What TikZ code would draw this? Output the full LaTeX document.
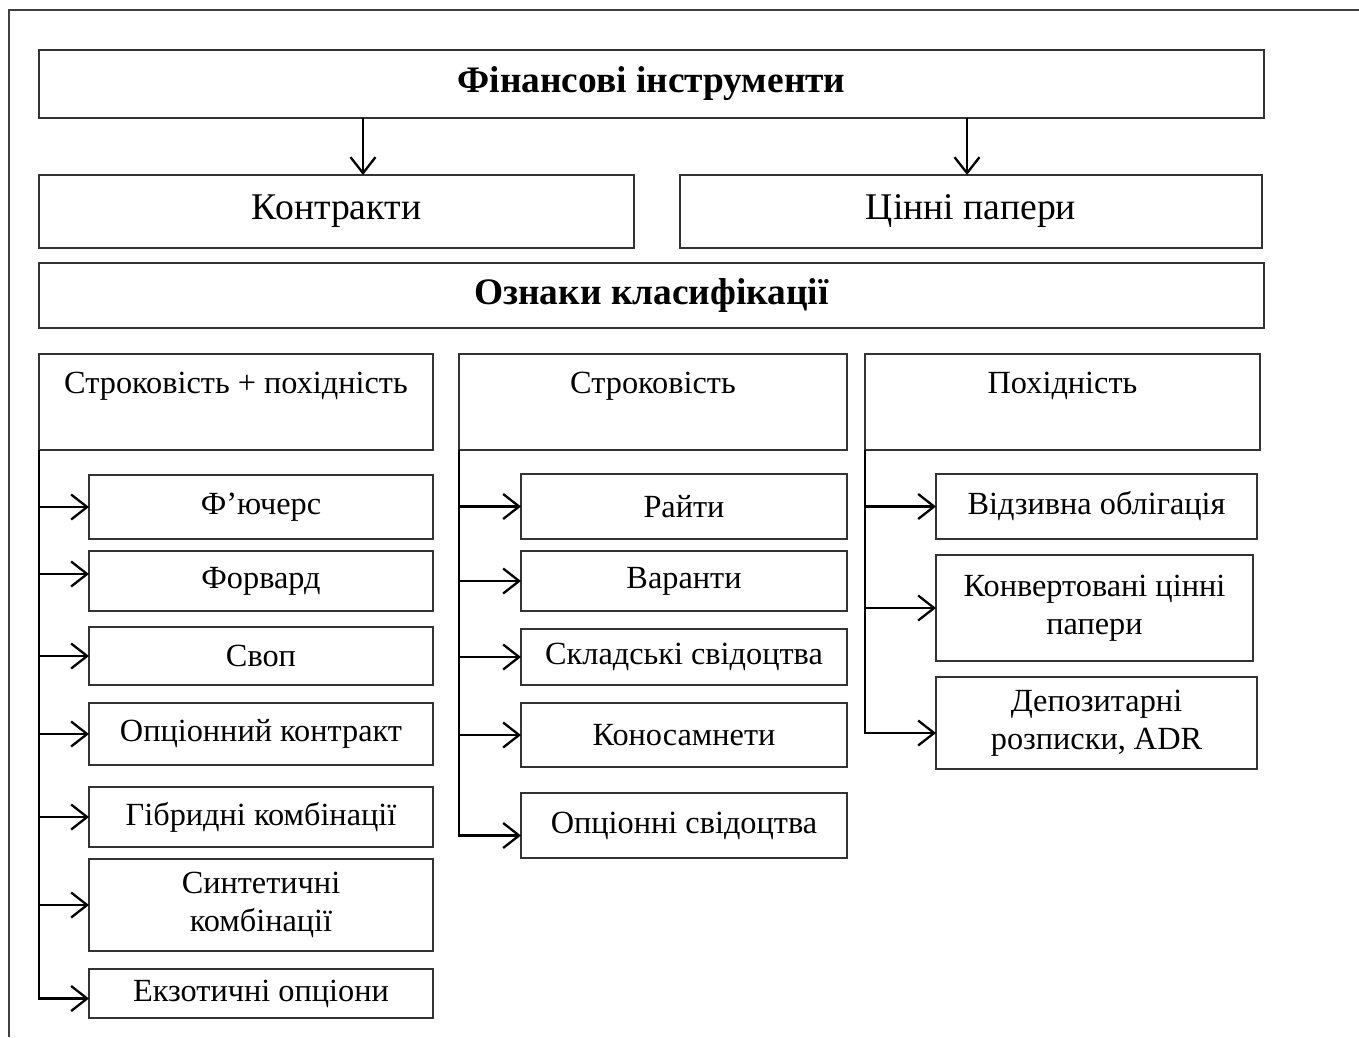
\documentclass[tikz,border=0pt]{standalone}
\usepackage{fontspec}
\setmainfont{Liberation Serif}
\usetikzlibrary{arrows.meta}
\newcommand\mybox[7][]{\node[box,#1,minimum width=#5pt,minimum height=#6pt,anchor=north west] (#2) at (#3,#4) {#7};}
\begin{document}
\begin{tikzpicture}[x=1pt,y=-1pt,
  box/.style={draw=black!80,line width=1.6pt,inner sep=0pt,outer sep=0pt,align=center,font=\fontsize{32.3}{38}\selectfont},
  big/.style={font=\fontsize{37.7}{44}\selectfont},
  ttl/.style={font=\fontsize{37.4}{44}\selectfont\bfseries},
  arr/.style={line width=2.3pt,-{Straight Barb[length=16pt,width=25pt,line width=2.3pt]}},
  frame/.style={draw=black!75,line width=1.6pt}]
\useasboundingbox (0,0) rectangle (1359,1037);
\draw[frame] (9,1037) -- (9,10) -- (1359,10);
% top level
\mybox[ttl]{title}{39}{50}{1225}{68}{Фінансові інструменти}
\mybox[big]{kon}{39}{175}{595}{73}{Контракти}
\mybox[big]{cin}{680}{175}{582}{73}{Цінні папери}
\mybox[ttl]{ozn}{39}{263}{1225}{65}{Ознаки класифікації}
\coordinate (ka) at ([xshift=26.5pt]kon.north);
\coordinate (ca) at ([xshift=-4pt]cin.north);
\draw[arr] (title.south -| ka) -- (ka);
\draw[arr] (title.south -| ca) -- (ca);
% headers
\mybox{h1}{39}{354}{394}{96}{Строковість + похідність\\\mbox{}}
\mybox{h2}{459}{354}{388}{96}{Строковість\\\mbox{}}
\mybox{h3}{865}{354}{395}{96}{Похідність\\\mbox{}}
% left column
\mybox{a1}{89}{475}{344}{64}{Ф’ючерс}
\mybox{a2}{89}{551}{344}{60}{Форвард}
\mybox{a3}{89}{627}{344}{58}{Своп}
\mybox{a4}{89}{703}{344}{62}{Опціонний контракт}
\mybox{a5}{89}{787}{344}{60}{Гібридні комбінації}
\mybox{a6}{89}{859}{344}{92}{Синтетичні\\комбінації}
\mybox{a7}{89}{969}{344}{49}{Екзотичні опціони}
% middle column
\mybox{b1}{521}{474}{326}{65}{Райти}
\mybox{b2}{521}{551}{326}{60}{Варанти}
\mybox{b3}{521}{629}{326}{56}{Складські свідоцтва}
\mybox{b4}{521}{703}{326}{64}{Коносамнети}
\mybox{b5}{521}{793}{326}{65}{Опціонні свідоцтва}
% right column
\mybox{c1}{936}{474}{321}{65}{Відзивна облігація}
\mybox{c2}{936}{555}{317}{106}{Конвертовані цінні\\папери}
\mybox{c3}{936}{677}{321}{92}{Депозитарні\\розписки, ADR}
% connectors left
\coordinate (a7e) at ([yshift=-5pt]a7.west);
\draw[arr] (h1.south west) |- (a7e);
\coordinate (a2e) at ([yshift=7pt]a2.west);
\foreach \n in {a1,a2e,a3,a4,a5,a6}{
  \draw[arr] (h1.south west |- \n) -- (\n -| a1.west);
}
% connectors middle
\coordinate (b5e) at ([yshift=-10pt]b5.west);
\draw[arr] (h2.south west) |- (b5e);
\foreach \n in {b1,b2,b3,b4}{
  \draw[arr] (h2.south west |- \n.west) -- (\n.west);
}
% connectors right
\coordinate (c3e) at ([yshift=-10pt]c3.west);
\draw[arr] (h3.south west) |- (c3e);
\foreach \n in {c1,c2}{
  \draw[arr] (h3.south west |- \n.west) -- (\n.west);
}
\end{tikzpicture}
\end{document}
